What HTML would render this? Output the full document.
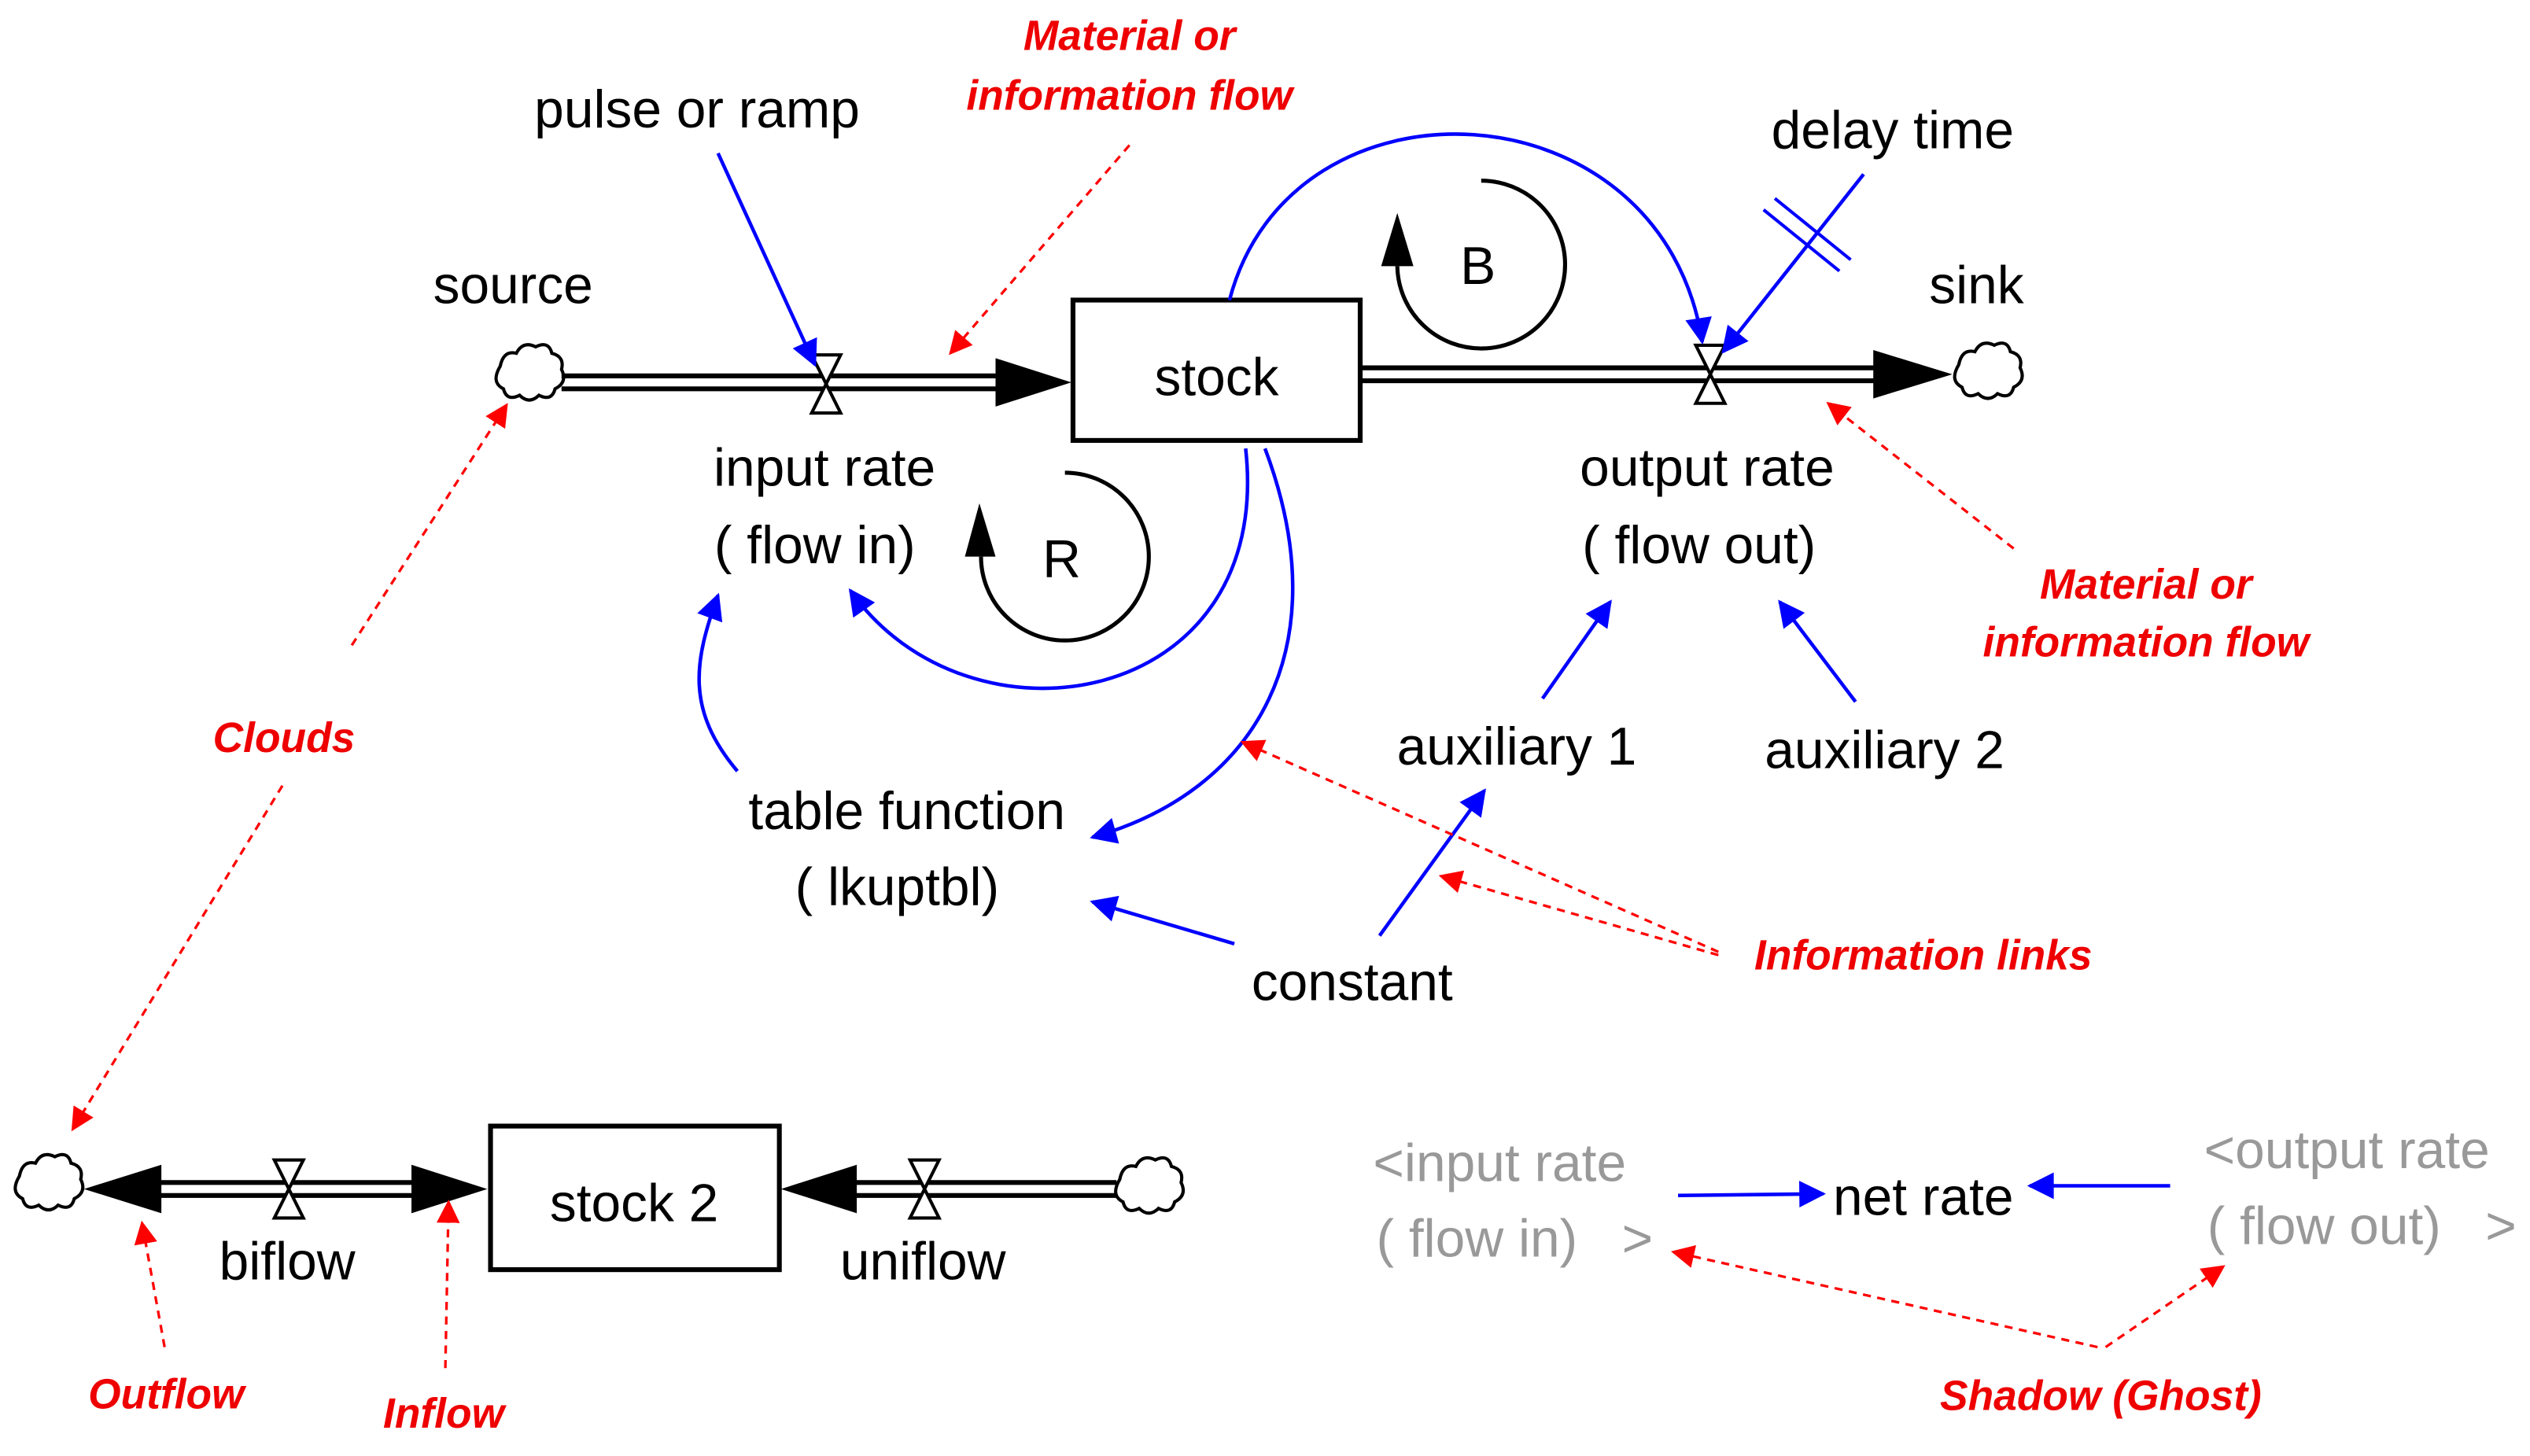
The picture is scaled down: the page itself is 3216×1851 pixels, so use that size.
<!DOCTYPE html>
<html><head><meta charset="utf-8"><style>
html,body{margin:0;padding:0;background:#fff;}
svg{display:block;}
text{font-family:"Liberation Sans",Arial,sans-serif;}
.t{font-size:33px;fill:#000;text-anchor:middle;}
.g{font-size:33px;fill:#999;}
.r{font-size:26px;fill:#e00;font-weight:bold;font-style:italic;text-anchor:middle;}
.bl{stroke:#00f;stroke-width:2.2;fill:none;}
.rd{stroke:#f00;stroke-width:1.6;fill:none;stroke-dasharray:5,4;}
</style></head><body>
<svg width="3216" height="1851" viewBox="0 0 1568 902.5" xmlns="http://www.w3.org/2000/svg">
<defs>
<marker id="ab" viewBox="0 0 10 10" refX="9" refY="5" markerWidth="14" markerHeight="7.5" markerUnits="strokeWidth" orient="auto"><path d="M0,0 L10,5 L0,10z" fill="#00f"/></marker>
<marker id="ar" viewBox="0 0 10 10" refX="9" refY="5" markerWidth="9" markerHeight="9" markerUnits="strokeWidth" orient="auto"><path d="M0,0 L10,5 L0,10z" fill="#f00"/></marker>
<g id="cloud"><path d="M-18,-6 q2,-10 10,-8 q4,-8 12,-4 q8,-4 10,4 q8,2 6,10 q4,8 -4,12 q-2,8 -10,4 q-6,6 -12,0 q-8,4 -10,-4 q-8,-4 -2,-14z" fill="#fff" stroke="#000" stroke-width="2"/></g>
<g id="valve"><path d="M-9,-18 L9,-18 L-9,18 L9,18 Z" fill="#fff" stroke="#000" stroke-width="2"/></g>
</defs>

<use href="#cloud" x="328" y="233"/>
<line x1="348" y1="233" x2="622" y2="233" stroke="#000" stroke-width="3"/>
<line x1="348" y1="241" x2="622" y2="241" stroke="#000" stroke-width="3"/>
<path d="M617,222 L664,237 L617,252z" fill="#000"/>
<use href="#valve" x="512" y="238"/>
<rect x="665" y="186" width="178" height="87" fill="#fff" stroke="#000" stroke-width="3"/>
<text class="t" x="754" y="245">stock</text>

<line x1="843" y1="228" x2="1165" y2="228" stroke="#000" stroke-width="3"/>
<line x1="843" y1="236" x2="1165" y2="236" stroke="#000" stroke-width="3"/>
<path d="M1161,217 L1210,232 L1161,247z" fill="#000"/>
<use href="#valve" x="1060" y="232"/>
<use href="#cloud" x="1232" y="232"/>

<text class="t" x="318" y="188">source</text>
<text class="t" x="1225" y="188">sink</text>
<text class="t" x="432" y="79">pulse or ramp</text>
<text class="t" x="1173" y="92">delay time</text>
<text class="t" x="511" y="301">input rate</text>
<text class="t" x="505" y="349">( flow in)</text>
<text class="t" x="1058" y="301">output rate</text>
<text class="t" x="1053" y="349">( flow out)</text>
<text class="t" x="658" y="358">R</text>
<text class="t" x="916" y="176">B</text>
<text class="t" x="940" y="474">auxiliary 1</text>
<text class="t" x="1168" y="476">auxiliary 2</text>
<text class="t" x="562" y="514">table function</text>
<text class="t" x="556" y="561">( lkuptbl)</text>
<text class="t" x="838" y="620">constant</text>

<path d="M608,345 A52,52 0 1 0 660,293" fill="none" stroke="#000" stroke-width="2.5"/>
<path d="M598,345 L607,312 L617,345z" fill="#000"/>
<path d="M866,165 A52,52 0 1 0 918,112" fill="none" stroke="#000" stroke-width="2.5"/>
<path d="M856,165 L866,132 L876,165z" fill="#000"/>

<line class="bl" x1="445" y1="95" x2="505" y2="226" marker-end="url(#ab)"/>
<line class="bl" x1="1155" y1="108" x2="1068" y2="218" marker-end="url(#ab)"/>
<line x1="1093" y1="130" x2="1140" y2="168" stroke="#00f" stroke-width="2"/>
<line x1="1100" y1="123" x2="1147" y2="161" stroke="#00f" stroke-width="2"/>
<path class="bl" d="M762,186 C800,40 1030,50 1055,212" marker-end="url(#ab)"/>
<path class="bl" d="M772,278 C790,440 600,470 527,366" marker-end="url(#ab)"/>
<path class="bl" d="M784,278 C830,400 780,490 677,519" marker-end="url(#ab)"/>
<path class="bl" d="M457,478 C425,440 430,410 445,369" marker-end="url(#ab)"/>
<line class="bl" x1="956" y1="433" x2="998" y2="373" marker-end="url(#ab)"/>
<line class="bl" x1="1150" y1="435" x2="1103" y2="373" marker-end="url(#ab)"/>
<line class="bl" x1="765" y1="585" x2="677" y2="559" marker-end="url(#ab)"/>
<line class="bl" x1="855" y1="580" x2="920" y2="490" marker-end="url(#ab)"/>
<line class="bl" x1="1040" y1="741" x2="1130" y2="740" marker-end="url(#ab)"/>
<line class="bl" x1="1345" y1="735" x2="1258" y2="735" marker-end="url(#ab)"/>

<use href="#cloud" x="30" y="735"/>
<path d="M100,722 L52,737 L100,752z" fill="#000"/>
<path d="M255,722 L302,737 L255,752z" fill="#000"/>
<line x1="98" y1="733" x2="257" y2="733" stroke="#000" stroke-width="3"/>
<line x1="98" y1="741" x2="257" y2="741" stroke="#000" stroke-width="3"/>
<use href="#valve" x="179" y="737"/>
<rect x="304" y="698" width="179" height="89" fill="#fff" stroke="#000" stroke-width="3"/>
<text class="t" x="393" y="757">stock 2</text>
<path d="M531,722 L484,737 L531,752z" fill="#000"/>
<line x1="529" y1="733" x2="692" y2="733" stroke="#000" stroke-width="3"/>
<line x1="529" y1="741" x2="692" y2="741" stroke="#000" stroke-width="3"/>
<use href="#valve" x="573" y="737"/>
<use href="#cloud" x="712" y="737"/>
<text class="t" x="178" y="793">biflow</text>
<text class="t" x="572" y="793">uniflow</text>

<text class="g" x="851" y="732">&lt;input rate</text>
<text class="g" x="853" y="779">( flow in)&#160;&#160;&#160;&gt;</text>
<text class="t" x="1192" y="753">net rate</text>
<text class="g" x="1366" y="724">&lt;output rate</text>
<text class="g" x="1368" y="771">( flow out)&#160;&#160;&#160;&gt;</text>

<text class="r" x="700" y="31">Material or</text>
<text class="r" x="700" y="68">information flow</text>
<text class="r" x="1330" y="371">Material or</text>
<text class="r" x="1330" y="407">information flow</text>
<text class="r" x="176" y="466">Clouds</text>
<text class="r" x="1192" y="601">Information links</text>
<text class="r" x="103" y="873">Outflow</text>
<text class="r" x="275" y="885">Inflow</text>
<text class="r" x="1302" y="874">Shadow (Ghost)</text>

<line class="rd" x1="700" y1="90" x2="589" y2="219" marker-end="url(#ar)"/>
<line class="rd" x1="1248" y1="340" x2="1133" y2="250" marker-end="url(#ar)"/>
<line class="rd" x1="218" y1="400" x2="314" y2="251" marker-end="url(#ar)"/>
<line class="rd" x1="175" y1="487" x2="45" y2="700" marker-end="url(#ar)"/>
<line class="rd" x1="1065" y1="590" x2="770" y2="460" marker-end="url(#ar)"/>
<line class="rd" x1="1065" y1="592" x2="893" y2="543" marker-end="url(#ar)"/>
<line class="rd" x1="102" y1="835" x2="88" y2="758" marker-end="url(#ar)"/>
<line class="rd" x1="276" y1="848" x2="278" y2="745" marker-end="url(#ar)"/>
<line class="rd" x1="1300" y1="835" x2="1037" y2="776" marker-end="url(#ar)"/>
<line class="rd" x1="1305" y1="835" x2="1378" y2="785" marker-end="url(#ar)"/>
</svg>
</body></html>
